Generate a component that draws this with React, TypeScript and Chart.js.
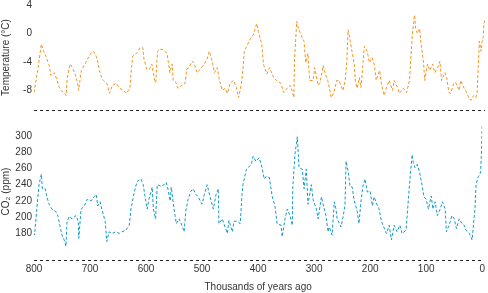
import React, { useEffect, useRef } from "react";
import { Chart, registerables } from "chart.js";

Chart.register(...registerables);

// Temperature anomaly (°C), thousands of years ago
const tempAges = [
  800, 793, 787, 783, 779, 773, 770, 764, 759, 755, 752, 746, 743, 741, 736, 732, 727, 723, 721, 716,
  711, 705, 700, 695, 691, 687, 684, 680, 677, 671, 666, 661, 654, 648, 641, 636, 630, 627, 625, 618,
  612, 607, 605, 600, 595, 591, 586, 584, 581, 577, 571, 564, 562, 559, 555, 553, 548, 545, 538, 532,
  529, 525, 520, 516, 511, 505, 500, 493, 489, 484, 480, 475, 471, 466, 461, 457, 452, 446, 441, 437,
  432, 429, 427, 421, 416, 411, 405, 402, 396, 393, 387, 382, 375, 370, 362, 357, 350, 345, 339, 338,
  334, 332, 327, 321, 318, 314, 311, 305, 302, 296, 293, 287, 284, 279, 275, 273, 268, 263, 259, 252,
  248, 245, 243, 241, 236, 232, 230, 227, 223, 220, 216, 214, 209, 205, 200, 196, 193, 187, 184, 179,
  175, 170, 164, 161, 155, 152, 145, 139, 134, 129, 125, 123, 120, 116, 114, 109, 107, 102, 98, 93,
  89, 84, 80, 77, 71, 68, 64, 61, 55, 52, 46, 43, 37, 32, 29, 25, 20, 16, 14, 12,
  10, 7, 5, 3, 2, 0,
];
const tempValues = [
  -8.3, -5.0, -1.5, -2.5, -3.2, -4.5, -5.9, -5.5, -6.6, -7.6, -8.0, -8.4, -8.7, -6.2, -4.3, -4.8, -5.7, -6.9, -8.0, -5.2,
  -4.5, -3.6, -2.9, -2.5, -2.9, -3.9, -5.2, -6.2, -6.6, -7.0, -8.4, -7.3, -7.0, -7.7, -8.0, -8.4, -7.7, -4.8, -3.2, -2.8,
  -2.0, -2.0, -3.6, -5.0, -5.0, -4.3, -6.6, -6.9, -2.5, -2.2, -2.3, -2.8, -3.9, -5.5, -4.3, -6.6, -6.9, -7.7, -7.3, -7.0,
  -5.0, -4.8, -3.9, -4.1, -5.5, -5.0, -4.5, -3.6, -2.5, -3.9, -5.5, -4.8, -6.6, -8.0, -7.7, -8.4, -7.0, -6.6, -7.6, -9.0,
  -7.0, -4.8, -2.5, -1.5, -0.7, -0.2, 1.4, 0.3, -1.5, -4.3, -5.7, -4.8, -6.2, -6.6, -7.0, -8.3, -7.6, -7.3, -9.0, -3.9,
  1.7, 1.0, -0.1, -1.1, -4.1, -2.8, -6.6, -6.6, -4.8, -7.3, -7.0, -4.5, -5.5, -6.6, -8.0, -9.0, -8.3, -6.6, -6.6, -8.0,
  -6.6, -3.9, 0.5, -0.2, -2.5, -4.3, -6.6, -7.7, -6.2, -7.6, -3.9, -1.8, -2.5, -4.1, -3.4, -4.5, -6.6, -5.2, -7.0, -8.7,
  -7.7, -6.6, -8.0, -6.6, -7.6, -8.4, -7.7, -8.3, -6.6, -0.2, 2.6, 0.7, 0.0, 0.7, -1.1, -4.1, -6.6, -4.3, -5.2, -4.3,
  -5.5, -4.8, -3.9, -6.6, -5.5, -6.2, -8.3, -8.4, -6.9, -6.9, -8.0, -6.6, -7.7, -8.4, -9.0, -9.4, -8.7, -9.0, -8.3, -4.8,
  -1.1, -2.5, -1.1, -0.4, 1.4, 1.9,
];

// CO2 concentration (ppm), thousands of years ago
const co2Ages = [
  800, 799, 795, 791, 787, 785, 780, 777, 773, 768, 764, 761, 757, 754, 750, 745, 743, 741, 737, 732,
  725, 721, 720, 716, 711, 705, 698, 693, 689, 686, 682, 679, 673, 670, 666, 661, 654, 648, 643, 636,
  630, 627, 621, 616, 609, 605, 602, 598, 595, 589, 587, 583, 580, 573, 568, 564, 561, 557, 555, 550,
  546, 541, 536, 532, 529, 525, 520, 516, 511, 507, 500, 496, 491, 486, 480, 475, 471, 470, 464, 459,
  455, 452, 446, 443, 437, 432, 429, 427, 421, 418, 412, 409, 404, 398, 393, 389, 386, 380, 375, 370,
  366, 359, 357, 352, 348, 343, 339, 338, 334, 330, 327, 321, 318, 314, 311, 305, 302, 296, 293, 287,
  284, 279, 275, 273, 268, 264, 261, 259, 252, 248, 245, 243, 239, 236, 232, 229, 223, 220, 216, 213,
  209, 205, 200, 196, 193, 187, 184, 180, 177, 171, 166, 162, 157, 152, 147, 143, 136, 134, 129, 125,
  123, 120, 116, 112, 107, 104, 100, 96, 91, 88, 84, 80, 75, 71, 66, 64, 59, 54, 50, 46,
  41, 36, 32, 29, 23, 18, 16, 13, 11, 7, 4, 3, 1.5, 0,
];
const co2Values = [
  180, 178, 210, 240, 253, 235, 235, 225, 216, 210, 208, 207, 201, 190, 178, 170, 164, 195, 201, 198,
  202, 195, 174, 210, 213, 222, 220, 225, 228, 214, 219, 210, 195, 170, 182, 180, 182, 180, 182, 184,
  190, 210, 231, 244, 247, 240, 226, 210, 222, 237, 210, 198, 240, 238, 240, 243, 235, 220, 237, 210,
  192, 198, 190, 182, 208, 222, 232, 235, 228, 225, 216, 228, 240, 226, 210, 228, 235, 192, 198, 188,
  180, 196, 182, 195, 195, 192, 225, 240, 259, 261, 265, 275, 269, 273, 261, 247, 250, 249, 226, 214,
  192, 190, 176, 198, 210, 202, 190, 238, 279, 299, 261, 259, 235, 259, 216, 240, 222, 210, 198, 225,
  216, 202, 182, 188, 178, 219, 210, 198, 188, 202, 214, 269, 255, 238, 237, 222, 207, 192, 222, 238,
  247, 231, 232, 214, 225, 214, 210, 195, 190, 180, 190, 172, 190, 182, 190, 180, 184, 202, 247, 277,
  267, 261, 265, 256, 238, 225, 222, 210, 226, 210, 219, 202, 210, 219, 210, 182, 190, 202, 198, 186,
  198, 192, 190, 184, 180, 172, 188, 210, 240, 250, 253, 256, 275, 313,
];

const xTicks = [800, 700, 600, 500, 400, 300, 200, 100, 0];
const tempTicks = [-8, -4, 0, 4];
const co2Ticks = [180, 200, 220, 240, 260, 280, 300];

const FONT = { family: "'Liberation Sans', Arial, sans-serif", size: 10 };
const TEXT = "#333";
const ORANGE = "#f5941e";
const BLUE = "#1499c6";
const AXIS = "#222";

// draws the dashed baseline along the bottom of each panel's plot area
const dashedBaseline = {
  id: "dashedBaseline",
  afterDraw(chart: any) {
    const { ctx, chartArea } = chart;
    ctx.save();
    ctx.strokeStyle = AXIS;
    ctx.lineWidth = 1;
    ctx.setLineDash([3, 3]);
    ctx.beginPath();
    const y = Math.round(chartArea.bottom) + 0.5;
    ctx.moveTo(chartArea.left, y);
    ctx.lineTo(chartArea.right, y);
    ctx.stroke();
    ctx.restore();
  },
};

function makeOptions(kind: "temp" | "co2"): any {
  const isTemp = kind === "temp";
  return {
    animation: false,
    responsive: false,
    maintainAspectRatio: false,
    layout: { padding: { left: 0, right: isTemp ? 3 : 0, top: 0, bottom: 0 } },
    plugins: { legend: { display: false }, tooltip: { enabled: false } },
    scales: {
      x: {
        type: "linear",
        min: 0,
        max: 800,
        reverse: true,
        afterBuildTicks: (s: any) => {
          s.ticks = xTicks.map((v) => ({ value: v }));
        },
        ticks: { display: !isTemp, font: FONT, color: TEXT, padding: 3, maxRotation: 0 },
        grid: { display: false, drawTicks: false },
        border: { display: false },
        title: {
          display: !isTemp,
          text: "Thousands of years ago",
          font: FONT,
          color: TEXT,
          padding: { top: 3, bottom: 0 },
        },
      },
      y: {
        min: isTemp ? -10.75 : 147.3,
        max: isTemp ? 4 : 316,
        afterBuildTicks: (s: any) => {
          s.ticks = (isTemp ? tempTicks : co2Ticks).map((v) => ({ value: v }));
        },
        afterFit: (s: any) => {
          s.width = 34;
        },
        ticks: { font: FONT, color: TEXT, padding: 2 },
        grid: { display: false, drawTicks: false },
        border: { display: false },
        title: {
          display: true,
          text: isTemp ? "Temperature (°C)" : "CO₂ (ppm)",
          font: FONT,
          color: TEXT,
          padding: { top: 0, bottom: 2 },
        },
      },
    },
  };
}

export default function App() {
  const topRef = useRef<HTMLCanvasElement | null>(null);
  const botRef = useRef<HTMLCanvasElement | null>(null);

  useEffect(() => {
    if (!topRef.current || !botRef.current) return;
    const top = new Chart(topRef.current, {
      type: "line",
      data: {
        datasets: [
          {
            data: tempAges.map((a, i) => ({ x: a, y: tempValues[i] })),
            borderColor: ORANGE,
            borderWidth: 1,
            borderDash: [3, 2],
            pointRadius: 0,
            tension: 0,
            fill: false,
          },
        ],
      },
      options: makeOptions("temp"),
      plugins: [dashedBaseline],
    });
    const bot = new Chart(botRef.current, {
      type: "line",
      data: {
        datasets: [
          {
            data: co2Ages.map((a, i) => ({ x: a, y: co2Values[i] })),
            borderColor: BLUE,
            borderWidth: 1,
            borderDash: [3, 2],
            pointRadius: 0,
            tension: 0,
            fill: false,
          },
        ],
      },
      options: makeOptions("co2"),
      plugins: [dashedBaseline],
    });
    return () => {
      top.destroy();
      bot.destroy();
    };
  }, []);

  return (
    <div
      style={{
        position: "absolute",
        left: 0,
        top: 0,
        width: 488,
        height: 293,
        overflow: "hidden",
        background: "#fff",
      }}
    >
      <canvas
        ref={topRef}
        width={488}
        height={121}
        style={{ position: "absolute", left: 0, top: -3, width: 488, height: 121 }}
      />
      <canvas
        ref={botRef}
        width={488}
        height={178}
        style={{ position: "absolute", left: 0, top: 115, width: 488, height: 178 }}
      />
    </div>
  );
}
